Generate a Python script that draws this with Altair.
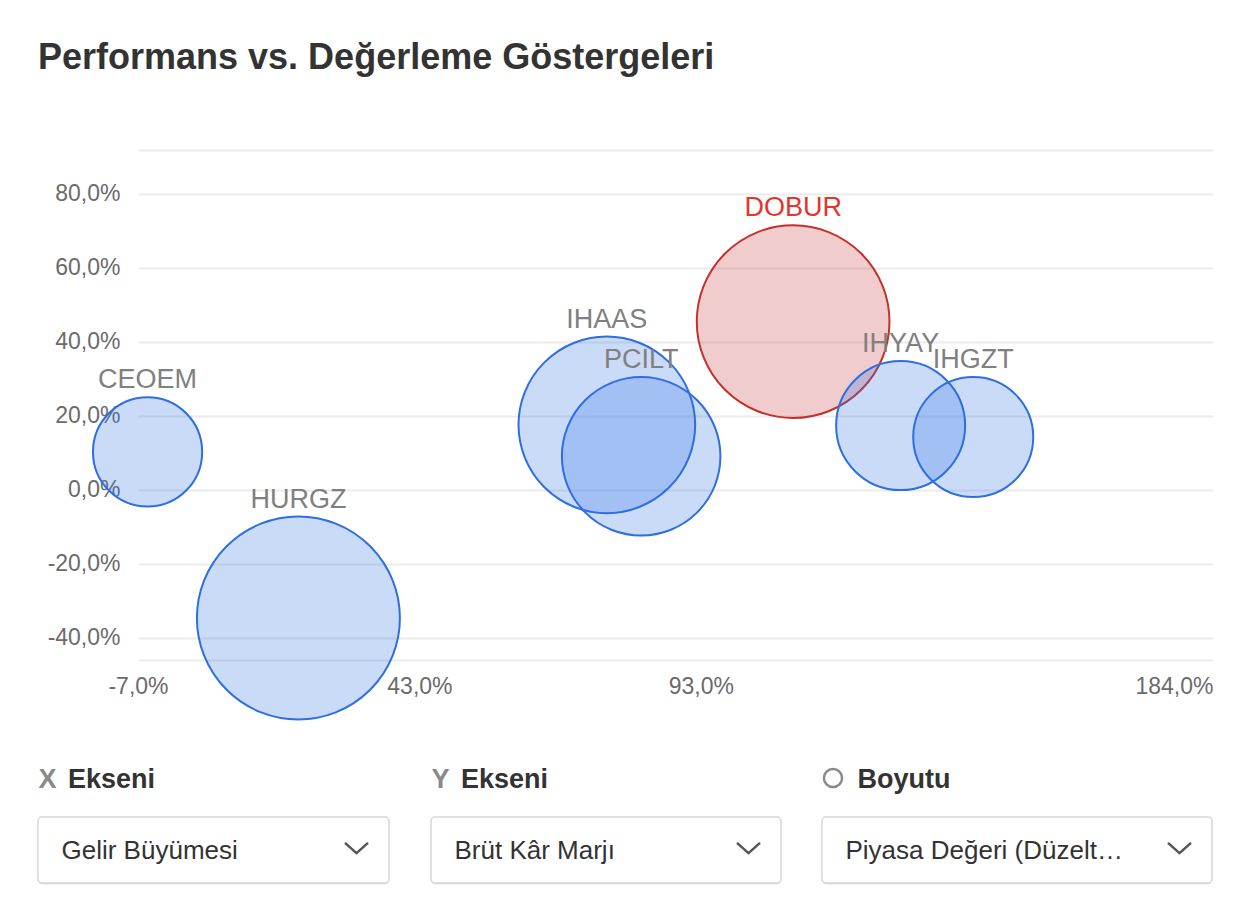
import math
import altair as alt
import pandas as pd

# ---------------- data ----------------
tickers = ["CEOEM", "HURGZ", "IHAAS", "PCILT", "DOBUR", "IHYAY", "IHGZT"]
gelir_buyumesi = [-5.3, 21.5, 76.3, 82.4, 109.4, 128.5, 141.4]   # x, %
brut_kar_marji = [10.3, -34.6, 17.6, 9.1, 45.5, 17.4, 14.3]      # y, %
piyasa_degeri = [1490, 5150, 3900, 3140, 4640, 2080, 1800]       # bubble size
highlight = "DOBUR"

x_ticks = [-7, 43, 93, 184]
y_ticks = [-40, -20, 0, 20, 40, 60, 80]
x_domain = [-7, 184]
y_domain = [-45.95, 91.89]

chart_title = "Performans vs. Değerleme Göstergeleri"
control_keys = ["X", "Y", "○"]
control_titles = ["Ekseni", "Ekseni", "Boyutu"]
control_values = ["Gelir Büyümesi", "Brüt Kâr Marjı", "Piyasa Değeri (Düzelt…"]

# ---------------- layout / style ----------------
W, H = 1075, 510
FONT = "Liberation Sans, Arial, Helvetica, sans-serif"
BLUE = "#2d6ee3"
RED_FILL = "#c83232"
RED_STROKE = "#c5302b"
RED_TEXT = "#e5352b"
R_MAX = 101.5          # radius (px) of the biggest bubble
LABEL_GAP = 9
px_per_unit = H / (y_domain[1] - y_domain[0])

df = pd.DataFrame({
    "ticker": tickers,
    "gelir": gelir_buyumesi,
    "brut": brut_kar_marji,
    "piyasa": piyasa_degeri,
})

is_hl = f"datum.ticker == '{highlight}'"

x_enc = alt.X(
    "gelir:Q",
    title=None,
    scale=alt.Scale(domain=x_domain, nice=False, zero=False),
    axis=alt.Axis(
        values=x_ticks,
        labelExpr="datum.value + ',0%'",
        grid=False, ticks=False, domain=False,
        labelPadding=15, labelFontSize=23, labelColor="#6b6b6b", labelFont=FONT,
        labelFlush=False, labelOverlap=False, labelBound=False,
        labelAlign={"condition": {"test": f"datum.value == {x_ticks[-1]}", "value": "right"},
                    "value": "center"},
    ),
)
y_enc = alt.Y(
    "brut:Q",
    title=None,
    scale=alt.Scale(domain=y_domain, nice=False, zero=False),
    axis=alt.Axis(
        values=[y_domain[0]] + y_ticks + [y_domain[1]],
        labelExpr="datum.value % 20 === 0 ? datum.value + ',0%' : ''",
        grid=True, gridColor="#ebebeb", gridWidth=2,
        ticks=False, domain=False,
        labelPadding=18, labelFontSize=23, labelColor="#6b6b6b", labelFont=FONT,
        labelOverlap=False,
    ),
)

max_v = max(piyasa_degeri)
# Vega circle symbols have radius sqrt(size)/2
bubbles = alt.Chart(df).mark_circle(
    opacity=1, fillOpacity=0.25, strokeOpacity=1, strokeWidth=2
).encode(
    x=x_enc,
    y=y_enc,
    size=alt.Size("piyasa:Q", legend=None,
                  scale=alt.Scale(domain=[0, max_v], range=[0, (2 * R_MAX) ** 2])),
    fill=alt.condition(is_hl, alt.value(RED_FILL), alt.value(BLUE)),
    stroke=alt.condition(is_hl, alt.value(RED_STROKE), alt.value(BLUE)),
)

label_expr = (f"datum.brut + (sqrt(datum.piyasa / {max_v}) * {R_MAX} + {LABEL_GAP}) / {px_per_unit}")
labels = alt.Chart(df).transform_calculate(label_y=label_expr).mark_text(
    baseline="alphabetic", align="center", fontSize=27, font=FONT
).encode(
    x=alt.X("gelir:Q"),
    y=alt.Y("label_y:Q"),
    text="ticker:N",
    color=alt.condition(is_hl, alt.value(RED_TEXT), alt.value("#808080")),
)

# ---------------- controls under the chart ----------------
ctrl = pd.DataFrame({
    "slot": [0, 1, 2],
    "key": control_keys,
    "title": control_titles,
    "value": control_values,
})
box_left = [-100, 293, 684]
box_right = [251, 643, 1074]
ROW1_Y = 638
BOX_Y0, BOX_Y1 = 667, 733
VALUE_Y = 709
CHEV_Y = 698

layers = [bubbles, labels]
for i in range(3):
    c = alt.Chart(ctrl).transform_filter(alt.datum.slot == i)
    l, r = box_left[i], box_right[i]
    if control_keys[i] == "○":
        layers.append(c.mark_point(shape="circle", filled=False, stroke="#8a8a8a",
                                   strokeWidth=2.5, opacity=1, size=331).encode(
            x=alt.value(l + 11), y=alt.value(628)))
    else:
        layers.append(c.mark_text(align="left", baseline="alphabetic", font=FONT, fontSize=27,
                                  fontWeight="bold", color="#8a8a8a").encode(
            x=alt.value(l + 0.5), y=alt.value(ROW1_Y), text="key:N"))
    layers.append(c.mark_text(align="left", baseline="alphabetic", font=FONT, fontSize=27,
                              fontWeight="bold", color="#333333").encode(
        x=alt.value(l + 30 if i < 2 else l + 35.5), y=alt.value(ROW1_Y), text="title:N"))
    layers.append(c.mark_rect(fill="#e2e2e2", cornerRadius=4).encode(
        x=alt.value(l), x2=alt.value(r), y=alt.value(BOX_Y0 + 1.5), y2=alt.value(BOX_Y1 + 1.5)))
    layers.append(c.mark_rect(fill="white", stroke="#d6d6d6", strokeWidth=1.5, cornerRadius=4).encode(
        x=alt.value(l), x2=alt.value(r), y=alt.value(BOX_Y0), y2=alt.value(BOX_Y1)))
    layers.append(c.mark_text(align="left", baseline="alphabetic", font=FONT, fontSize=26,
                              color="#333333").encode(
        x=alt.value(l + 23.5), y=alt.value(VALUE_Y), text="value:N"))
    layers.append(c.mark_point(shape="M -1 -0.45 L 0 0.45 L 1 -0.45", filled=False,
                               stroke="#555555", strokeWidth=2.5, opacity=1, size=529).encode(
        x=alt.value(r - 32.5), y=alt.value(CHEV_Y)))

chart = alt.layer(*layers).properties(
    width=W,
    height=H,
    title=alt.TitleParams(
        text=chart_title, anchor="start", frame="group", dx=-100, offset=34,
        baseline="alphabetic", fontSize=36, fontWeight="bold", color="#333333", font=FONT,
    ),
    autosize=alt.AutoSizeParams(type="none"),
    padding={"left": 130, "top": 142, "right": 30, "bottom": 250},
    background="white",
).configure_view(stroke=None)

chart.save("out.html", embed_options={"renderer": "svg", "actions": False})
